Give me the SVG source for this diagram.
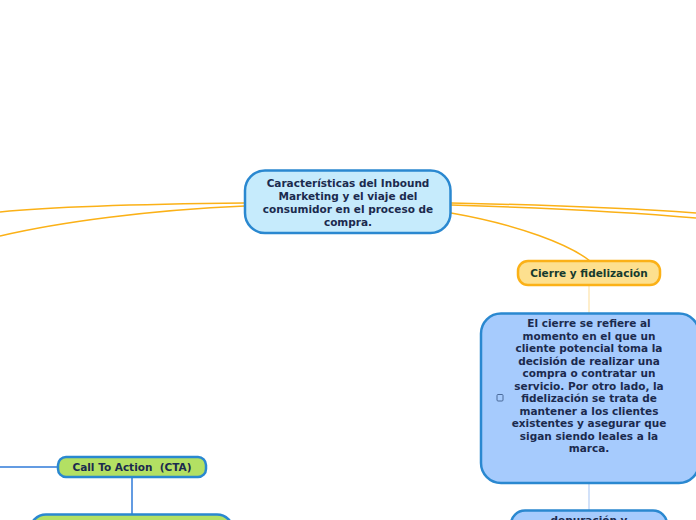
<svg xmlns="http://www.w3.org/2000/svg" width="696" height="520" viewBox="0 0 696 520">
<style>
.t{font-family:"DejaVu Sans",Verdana,sans-serif;font-weight:bold;font-size:10.5px;fill:#1b2a4e;text-anchor:middle}
.org{fill:none;stroke:#fbb117;stroke-width:1.5}
.blue{fill:#a6cbfd;stroke:#2a88d0;stroke-width:2.5}
.green{fill:#b3e063;stroke:#2a88d0;stroke-width:2.5}
</style>
<rect width="696" height="520" fill="#fff"/>
<g id="connectors">
<path class="org" d="M245,203 C150,204 60,206 0,212"/>
<path class="org" d="M245,206 C150,210 60,222 0,236"/>
<path class="org" d="M451,203 C550,205 640,209 696,213"/>
<path class="org" d="M451,205 C550,208 640,213 696,218"/>
<path class="org" d="M451,213 C520,225 570,245 590,261"/>
<line x1="589" y1="285" x2="589" y2="313" stroke="#fde3a8" stroke-width="1.2"/>
<line x1="589" y1="483" x2="589" y2="511" stroke="#b4cef5" stroke-width="1.2"/>
<line x1="0" y1="467" x2="58" y2="467" stroke="#2f7ad8" stroke-width="1.5"/>
<line x1="132" y1="477" x2="132" y2="515" stroke="#2f7ad8" stroke-width="1.5"/>
</g>
<g id="central">
<rect x="245" y="170.5" width="205.5" height="62.5" rx="20" fill="#c6ebfc" stroke="#2a88d0" stroke-width="2.5"/>
<text class="t" x="348" y="187">Características del Inbound</text>
<text class="t" x="348" y="200">Marketing y el viaje del</text>
<text class="t" x="348" y="213">consumidor en el proceso de</text>
<text class="t" x="348" y="226">compra.</text>
</g>
<g id="cierre">
<rect x="518" y="261" width="142" height="24" rx="10" fill="#fde08f" stroke="#fbb117" stroke-width="2.5"/>
<text class="t" x="589" y="277" style="fill:#163a2e">Cierre y fidelización</text>
</g>
<g id="descripcion">
<rect x="481" y="313.5" width="218" height="169.5" rx="20" class="blue"/>
<rect x="497" y="394.5" width="6" height="6.5" rx="1" fill="none" stroke="#4a6a9a" stroke-width="1"/>
<text class="t" x="589" y="327">El cierre se refiere al</text>
<text class="t" x="589" y="339.5">momento en el que un</text>
<text class="t" x="589" y="352">cliente potencial toma la</text>
<text class="t" x="589" y="364.5">decisión de realizar una</text>
<text class="t" x="589" y="377">compra o contratar un</text>
<text class="t" x="589" y="389.5">servicio. Por otro lado, la</text>
<text class="t" x="589" y="402">fidelización se trata de</text>
<text class="t" x="589" y="414.5">mantener a los clientes</text>
<text class="t" x="589" y="427">existentes y asegurar que</text>
<text class="t" x="589" y="439.5">sigan siendo leales a la</text>
<text class="t" x="589" y="452">marca.</text>
</g>
<g id="depuracion">
<rect x="511" y="510.5" width="156" height="40" rx="14" class="blue"/>
<text class="t" x="589" y="524">depuración y</text>
</g>
<g id="cta">
<rect x="58" y="457" width="148" height="20" rx="8" class="green"/>
<text class="t" x="132" y="471" xml:space="preserve">Call To Action  (CTA)</text>
</g>
<g id="cta-detalle">
<rect x="30" y="514.5" width="203" height="40" rx="16" class="green"/>
</g>
</svg>
